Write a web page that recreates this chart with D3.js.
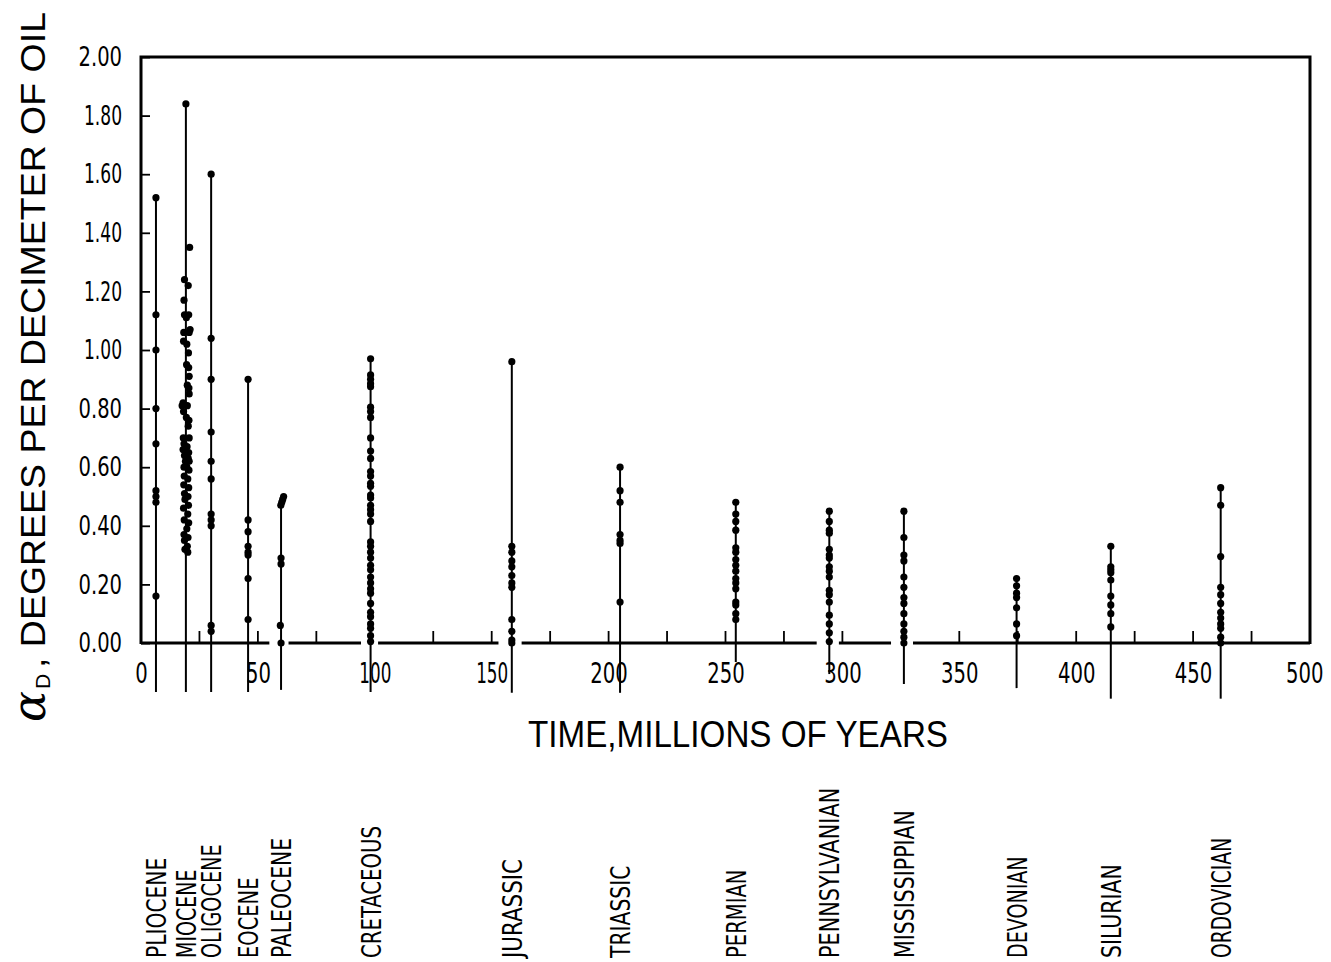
<!DOCTYPE html>
<html><head><meta charset="utf-8">
<script src="https://cdn.jsdelivr.net/npm/d3@7/dist/d3.min.js"></script>
<style>
body{margin:0;background:#fff;}
svg{display:block;background:#fff;}
</style></head><body>
<svg id="chart" width="1331" height="962"></svg>
<script>
// ---------------- DATA ----------------
const periodNames = ["PLIOCENE","MIOCENE","OLIGOCENE","EOCENE","PALEOCENE","CRETACEOUS","JURASSIC","TRIASSIC","PERMIAN","PENNSYLVANIAN","MISSISSIPPIAN","DEVONIAN","SILURIAN","ORDOVICIAN"];
const periodAges  = [6.4, 19.2, 30.0, 45.8, 59.9, 98.2, 158.6, 204.9, 254.4, 294.4, 326.3, 374.5, 414.8, 461.8];
// lower end of each vertical line (below the zero axis), in αD units
const periodTails = [-0.167,-0.167,-0.167,-0.167,-0.16,-0.167,-0.17,-0.17,-0.065,-0.106,-0.14,-0.154,-0.19,-0.19];

const plioceneValues = [1.52,1.12,1.00,0.80,0.68,0.52,0.50,0.48,0.16];
const mioceneValues = [1.84,1.35,1.24,1.22,1.17,1.12,1.12,1.11,1.06,1.06,1.07,1.03,1.02,0.99,0.95,0.94,0.91,0.88,0.87,0.85,0.82,0.81,0.81,0.79,0.77,0.76,0.74,0.70,0.70,0.68,0.67,0.66,0.65,0.64,0.63,0.62,0.62,0.60,0.60,0.59,0.57,0.56,0.54,0.53,0.51,0.50,0.49,0.47,0.46,0.44,0.42,0.41,0.39,0.37,0.36,0.35,0.33,0.32,0.31];
const mioceneAges = [19.2,20.8,18.6,20.2,18.4,18.6,20.4,19.4,18.3,20.6,21.0,18.2,19.6,20.3,19.5,20.4,20.6,19.8,20.5,20.6,18.0,17.6,19.8,18.2,19.4,20.5,20.2,18.1,20.6,18.4,19.7,18.0,20.4,18.6,20.2,19.0,20.6,18.4,19.6,20.5,18.5,20.0,18.3,20.4,18.6,20.1,18.8,20.3,18.2,20.0,18.5,20.4,19.6,18.4,20.1,18.6,19.8,18.8,20.0];
const oligoceneValues = [1.60,1.04,0.90,0.72,0.62,0.56,0.44,0.42,0.40,0.06,0.04];
const eoceneValues = [0.90,0.42,0.38,0.33,0.31,0.30,0.22,0.08];
const paleoceneValues = [0.50,0.49,0.48,0.47,0.29,0.27,0.06,0.00];
const paleoceneAges = [61.0,60.6,60.2,59.8,59.9,59.9,59.6,59.9];
const cretaceousValues = [0.97,0.915,0.90,0.885,0.875,0.805,0.79,0.77,0.70,0.655,0.63,0.585,0.57,0.545,0.535,0.505,0.495,0.47,0.455,0.44,0.415,0.345,0.33,0.31,0.29,0.265,0.25,0.225,0.205,0.185,0.17,0.135,0.105,0.09,0.065,0.05,0.025,0.005];
const jurassicValues = [0.96,0.33,0.31,0.28,0.26,0.23,0.205,0.19,0.08,0.04,0.01,0.0];
const triassicValues = [0.60,0.52,0.48,0.37,0.35,0.34,0.14];
const permianValues = [0.48,0.44,0.415,0.385,0.325,0.31,0.285,0.265,0.245,0.22,0.205,0.185,0.14,0.13,0.10,0.08];
const pennsylvanianValues = [0.45,0.415,0.385,0.375,0.32,0.30,0.29,0.26,0.245,0.225,0.18,0.165,0.14,0.095,0.065,0.035,0.005];
const mississippianValues = [0.45,0.36,0.30,0.28,0.225,0.19,0.155,0.135,0.10,0.065,0.04,0.02,0.0];
const devonianValues = [0.22,0.195,0.17,0.155,0.12,0.065,0.025];
const silurianValues = [0.33,0.26,0.25,0.24,0.215,0.16,0.13,0.10,0.055];
const ordovicianValues = [0.53,0.47,0.295,0.19,0.165,0.135,0.105,0.085,0.065,0.05,0.02,0.0];

const seriesValues = [plioceneValues,mioceneValues,oligoceneValues,eoceneValues,paleoceneValues,cretaceousValues,jurassicValues,triassicValues,permianValues,pennsylvanianValues,mississippianValues,devonianValues,silurianValues,ordovicianValues];
const seriesAges = [null,mioceneAges,null,null,paleoceneAges,null,null,null,null,null,null,null,null,null];

const yTickValues = [0,0.2,0.4,0.6,0.8,1.0,1.2,1.4,1.6,1.8,2.0];
const xTickLabels = [0,50,100,150,200,250,300,350,400,450,500];
const xMinorTicks = [25,50,75,100,125,150,175,200,225,250,275,300,325,350,375,400,425,450,475];
// visible pieces of the (hand-drawn, broken) time axis
const axisSegments = [[0,54.9],[63.1,94.1],[101.4,152.9],[162.8,289],[298.5,320.8],[330.2,500]];

const xTitle = "TIME,MILLIONS OF YEARS";
const yTitleMain = ", DEGREES PER DECIMETER OF OIL";

// ---------------- CHART ----------------
const svg = d3.select("#chart");
const x = d3.scaleLinear().domain([0,500]).range([141,1310]);
const y = d3.scaleLinear().domain([0,2]).range([643,57]);

const tickFont = "'Liberation Sans Narrow','DejaVu Sans Condensed','Arial Narrow',sans-serif";
function numLen(s){ return Array.from(s).reduce((a,c)=>a+(c==='1'?7:c==='.'?6:12.5),0); }
function capLen(s,w){ return Array.from(s).reduce((a,c)=>a+(c==='I'?w*0.5:(c==='M'||c==='N')?w*1.1:w),0); }

// frame
svg.append("path")
  .attr("d", `M${x(0)},${y(0)+1}V${y(2)}H${x(500)}V${y(0)+1}`)
  .attr("fill","none").attr("stroke","#000").attr("stroke-width",3)
  .attr("stroke-linejoin","miter");

// broken x axis line
svg.append("g").selectAll("line").data(axisSegments).join("line")
  .attr("x1",d=>x(d[0])).attr("x2",d=>x(d[1]))
  .attr("y1",y(0)).attr("y2",y(0))
  .attr("stroke","#000").attr("stroke-width",3);

// minor up ticks on x axis (only where the axis is drawn)
const inSeg = v => axisSegments.some(s => v > s[0] && v < s[1]);
svg.append("g").selectAll("line").data(xMinorTicks.filter(inSeg)).join("line")
  .attr("x1",d=>x(d)).attr("x2",d=>x(d))
  .attr("y1",y(0)).attr("y2",y(0)-12)
  .attr("stroke","#000").attr("stroke-width",1.8);

// y axis ticks + labels
const yAxis = d3.axisLeft(y).tickValues(yTickValues).tickFormat(d3.format(".2f"))
  .tickSizeInner(-9).tickSizeOuter(0).tickPadding(19);
const gy = svg.append("g").attr("transform",`translate(${x(0)},0)`).call(yAxis);
gy.select(".domain").remove();
gy.selectAll(".tick line").attr("stroke","#000").attr("stroke-width",1.8);
gy.selectAll(".tick text").attr("fill","#000")
  .style("font-family",tickFont).style("font-size","27px")
  .attr("textLength",d=>numLen(d3.format(".2f")(d))).attr("lengthAdjust","spacingAndGlyphs");

// x axis labels
const xAxis = d3.axisBottom(x).tickValues(xTickLabels).tickFormat(d3.format("d"))
  .tickSize(0).tickPadding(19);
const gx = svg.append("g").attr("transform",`translate(0,${y(0)})`).call(xAxis);
gx.select(".domain").remove();
gx.selectAll(".tick text").attr("fill","#000")
  .style("font-family",tickFont).style("font-size","29px")
  .attr("textLength",d=>numLen(String(d))).attr("lengthAdjust","spacingAndGlyphs");
// keep the last label inside the page
gx.selectAll(".tick text").filter(d=>d===500).attr("text-anchor","end").attr("x",13);

// data columns
const cols = svg.append("g").selectAll("g").data(periodNames.map((n,i)=>({
  name:n, age:periodAges[i], tail:periodTails[i],
  pts: seriesValues[i].map((v,j)=>({v, a: seriesAges[i] ? seriesAges[i][j] : periodAges[i]}))
}))).join("g");

cols.append("line")
  .attr("x1",d=>x(d.age)).attr("x2",d=>x(d.age))
  .attr("y1",d=>y(d3.max(d.pts,p=>p.v))).attr("y2",d=>y(d.tail))
  .attr("stroke","#000").attr("stroke-width",2);

cols.selectAll("circle").data(d=>d.pts).join("circle")
  .attr("cx",p=>x(p.a)).attr("cy",p=>y(p.v)).attr("r",3.6).attr("fill","#000");

// period labels (vertical)
svg.append("g").selectAll("text").data(periodNames.map((n,i)=>({n,a:periodAges[i]}))).join("text")
  .attr("transform",d=>`translate(${x(d.a)+10},958) rotate(-90)`)
  .attr("text-anchor","start")
  .style("font-family","'DejaVu Sans Condensed','Liberation Sans Narrow',sans-serif")
  .style("font-size","27px").attr("fill","#000")
  .attr("textLength",d=>capLen(d.n,13.2)).attr("lengthAdjust","spacingAndGlyphs")
  .text(d=>d.n);

// x title
svg.append("text").attr("x",528).attr("y",747)
  .style("font-family","'Liberation Sans',Arial,sans-serif").style("font-size","36px")
  .attr("fill","#000").attr("textLength",420).attr("lengthAdjust","spacingAndGlyphs")
  .text(xTitle);

// y title
const yt = svg.append("g").attr("transform","translate(45,0) rotate(-90)");
yt.append("text").attr("x",-722).attr("y",0)
  .style("font-family","'DejaVu Serif','Liberation Serif',serif").style("font-size","46px").style("font-style","italic")
  .attr("fill","#000").text("α");
yt.append("text").attr("x",-689).attr("y",5)
  .style("font-family","'Liberation Sans',Arial,sans-serif").style("font-size","21px")
  .attr("fill","#000").text("D");
yt.append("text").attr("x",-668).attr("y",0)
  .style("font-family","'Liberation Sans',Arial,sans-serif").style("font-size","35px")
  .attr("fill","#000").attr("textLength",656).attr("lengthAdjust","spacingAndGlyphs")
  .text(yTitleMain);
</script>
</body></html>
